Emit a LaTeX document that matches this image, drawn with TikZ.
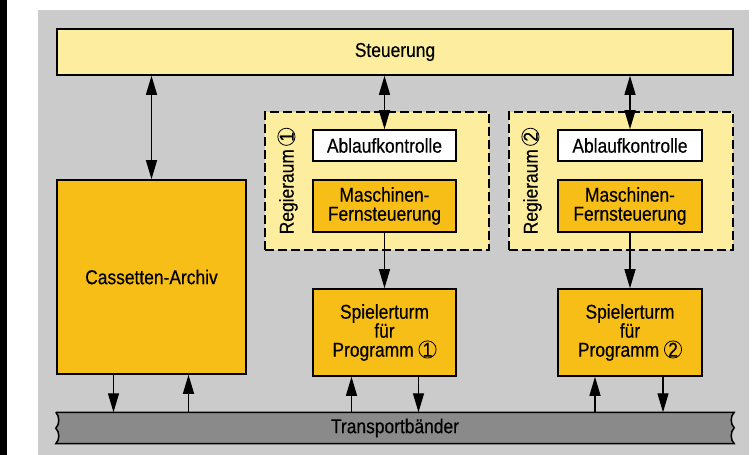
\documentclass[tikz,border=0pt]{standalone}
\usepackage{fontspec}
\setmainfont[FakeStretch=0.87, FakeBold=0.4]{Liberation Sans}
\usetikzlibrary{arrows.meta, positioning}
\definecolor{hellgelb}{HTML}{FCEE9E}
\definecolor{gold}{HTML}{F8BE18}
\definecolor{raster}{HTML}{CBCBCB}
\definecolor{bandgrau}{HTML}{8A8A8A}
% digit with a thin circle round it
\newcommand{\kreis}[1]{\makebox[18pt][l]{\hspace{9pt}\tikz[overlay]\draw[line width=0.8pt] (0pt,7.2pt) circle[radius=8.6pt];\hspace{-9pt}\makebox[18pt]{#1}}}
\tikzset{
x=1pt, y=-1pt, % pixel coordinates, y grows downwards
every node/.style={font=\fontsize{20}{19}\selectfont}, % text size of all labels
hellbox/.style={draw, line width=1.6pt, fill=hellgelb}, % light yellow boxes
goldbox/.style={draw, line width=1.6pt, fill=gold, align=center}, % dark yellow boxes
weissbox/.style={draw, line width=1.6pt, fill=white}, % white boxes
raum/.style={draw, line width=1.1pt, dash pattern=on 9pt off 4pt, fill=hellgelb}, % dashed control rooms
pfeil/.style={-{Triangle[length=19pt,width=11pt]}, line width=1.2pt}, % one-way arrows
doppelpfeil/.style={{Triangle[length=19pt,width=11pt]}-{Triangle[length=19pt,width=11pt]}, line width=1.2pt}, % two-way arrows
}
\begin{document}
\begin{tikzpicture}
    \useasboundingbox (0,0) rectangle (756,455);
    \fill[black] (0,0) rectangle (7,455);
    \fill[raster] (38,10) rectangle (749,455);

    \node[hellbox, minimum width=676, minimum height=46] (steuerung) at (395,52) {Steuerung};
    \node[goldbox, minimum width=189, minimum height=194] (archiv) at (151.5,277) {Cassetten-Archiv};

    \node[raum, minimum width=224, minimum height=138] (raum1) at (377,181) {};
    \node[raum, minimum width=224, minimum height=138] (raum2) at (621,181) {};
    \node[rotate=90] (raumtext1) at ([xshift=24]raum1.west) {Regieraum\,\kreis{1}};
    \node[rotate=90] (raumtext2) at ([xshift=24]raum2.west) {Regieraum\,\kreis{2}};

    \node[weissbox, minimum width=143, minimum height=31] (ablauf1) at (384.5,145.5) {Ablaufkontrolle};
    \node[weissbox, minimum width=144, minimum height=31] (ablauf2) at (630,145.5) {Ablaufkontrolle};
    \node[goldbox, minimum width=143, minimum height=52] (maschine1) at (384.5,206) {Maschinen-\\Fernsteuerung};
    \node[goldbox, minimum width=144, minimum height=52] (maschine2) at (630,206) {Maschinen-\\Fernsteuerung};
    \node[goldbox, minimum width=143, minimum height=87] (spieler1) at (384.5,332.5) {Spielerturm\\für\\Programm \kreis{1}};
    \node[goldbox, minimum width=144, minimum height=87] (spieler2) at (630,332.5) {Spielerturm\\für\\Programm \kreis{2}};

    % Transportbaender with wavy ends
    \node[minimum width=678, minimum height=31, inner sep=0pt] (band) at (395,428) {};
    \filldraw[fill=bandgrau, line width=1.5pt] (band.north west) -- (band.north east)
        .. controls +(-4,4) and +(-4,-4) .. ++(0,15.5)
        .. controls +(-4,4) and +(-4,-4) .. (band.south east)
        -- (band.south west)
        .. controls +(4,-4) and +(4,4) .. ++(0,-15.5)
        .. controls +(4,-4) and +(4,4) .. (band.north west);
    \node (bandtext) at (band.center) {Transportbänder};

    \draw[doppelpfeil] (steuerung.south -| archiv.north) -- (archiv.north);
    \draw[doppelpfeil] (steuerung.south -| ablauf1.north) -- (ablauf1.north);
    \draw[doppelpfeil] (steuerung.south -| ablauf2.north) -- (ablauf2.north);
    \draw[pfeil] (maschine1) -- (spieler1);
    \draw[pfeil] (maschine2) -- (spieler2);

    \draw[pfeil] ([xshift=-38]archiv.south) -- ([xshift=-38]archiv.south |- band.north);
    \draw[pfeil] ([xshift=37]archiv.south |- band.north) -- ([xshift=37]archiv.south);
    \draw[pfeil] ([xshift=-33]spieler1.south |- band.north) -- ([xshift=-33]spieler1.south);
    \draw[pfeil] ([xshift=34]spieler1.south) -- ([xshift=34]spieler1.south |- band.north);
    \draw[pfeil] ([xshift=-35]spieler2.south |- band.north) -- ([xshift=-35]spieler2.south);
    \draw[pfeil] ([xshift=33]spieler2.south) -- ([xshift=33]spieler2.south |- band.north);
\end{tikzpicture}
\end{document}
